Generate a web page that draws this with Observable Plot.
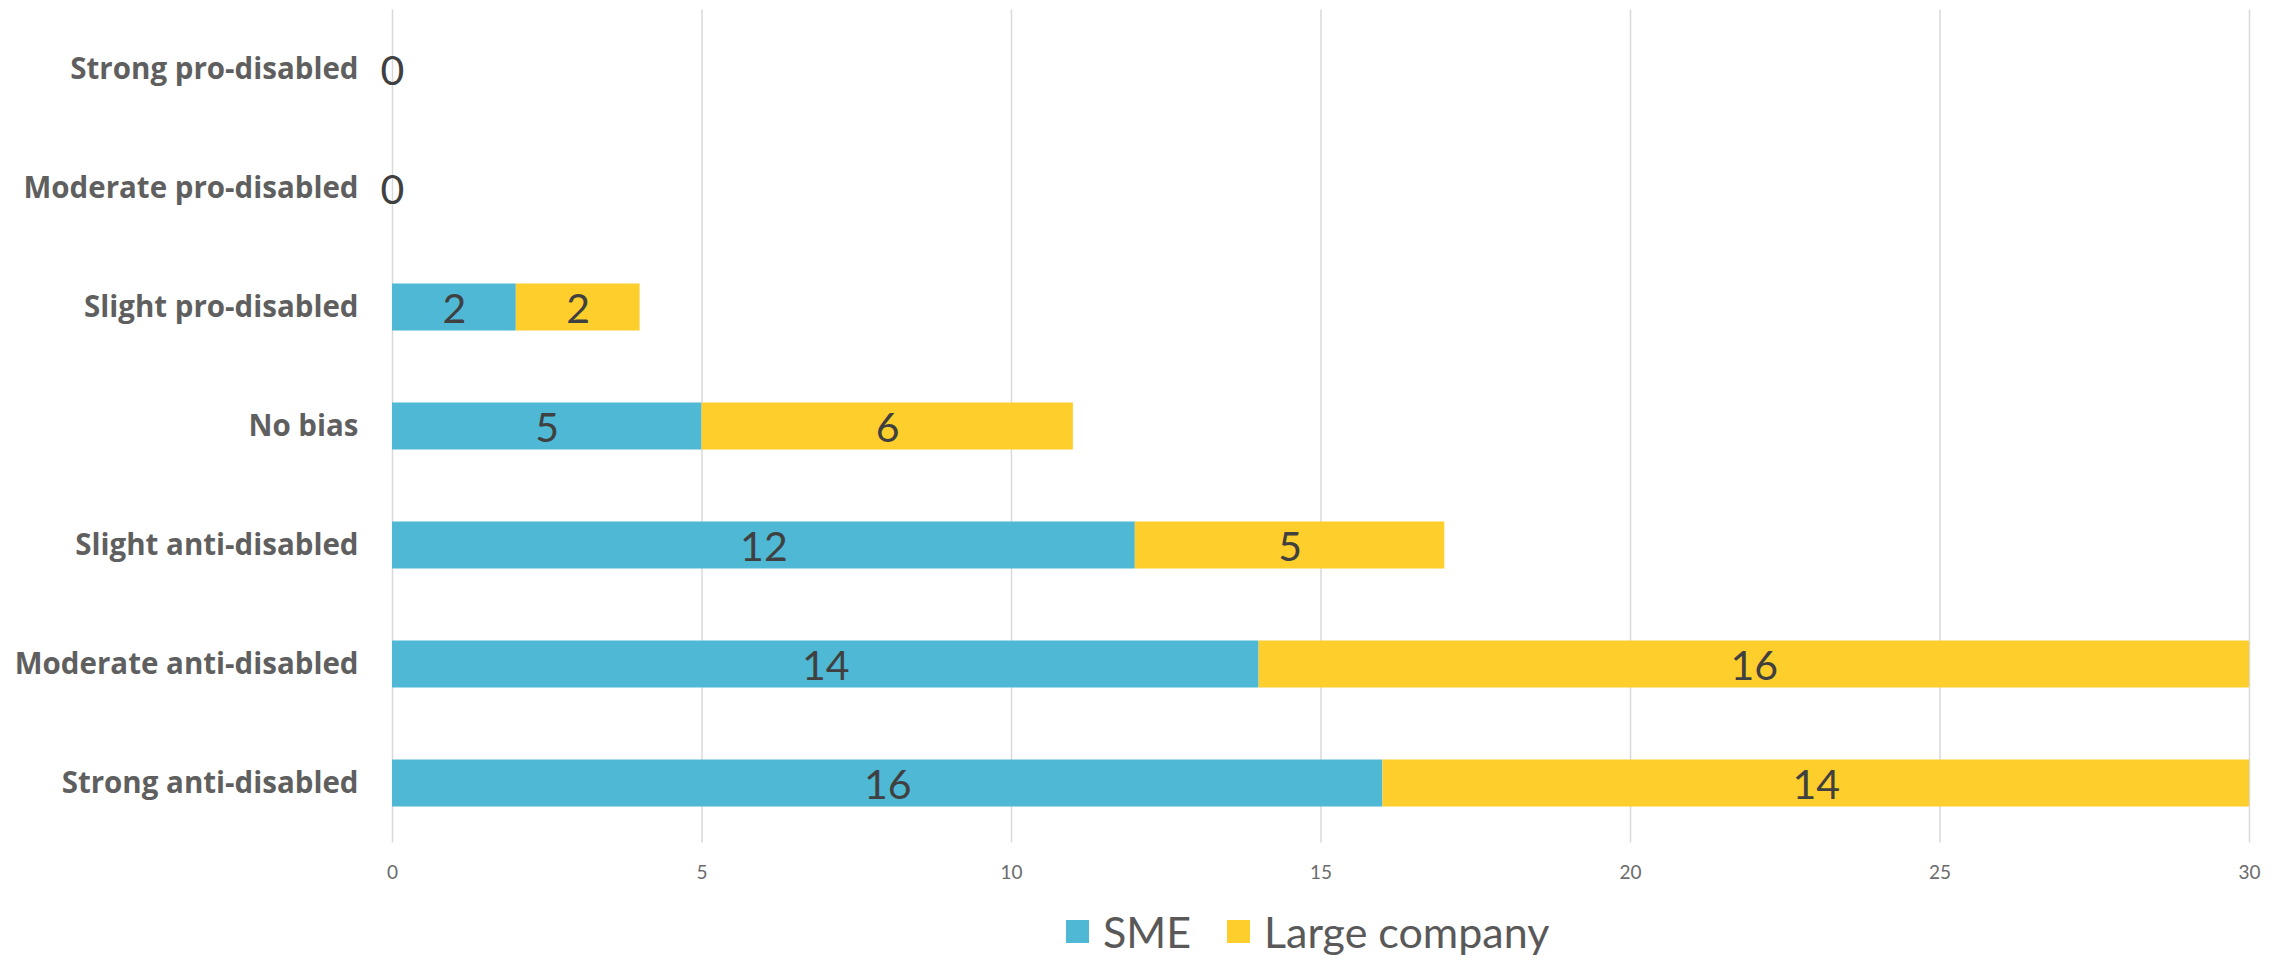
<!DOCTYPE html>
<html>
<head>
<meta charset="utf-8">
<script src="https://cdn.jsdelivr.net/npm/d3@7"></script>
<script src="https://cdn.jsdelivr.net/npm/@observablehq/plot@0.6"></script>
<style>
  html, body { margin: 0; padding: 0; background: #fff; }
  #chart { width: 2290px; }
  .legend { position: relative; height: 62px; font-family: Lato, "Open Sans", sans-serif; font-size: 43px; color: #595959; }
  .item { position: absolute; top: 0; height: 62px; display: flex; align-items: center; }
  .sw { width: 23px; height: 23px; margin-right: 14px; }
</style>
</head>
<body>
<div id="chart"></div>
<script>
const categories = [
  "Strong pro-disabled",
  "Moderate pro-disabled",
  "Slight pro-disabled",
  "No bias",
  "Slight anti-disabled",
  "Moderate anti-disabled",
  "Strong anti-disabled"
];
const smeValues   = [0, 0, 2, 5, 12, 14, 16];
const largeValues = [0, 0, 2, 6, 5, 16, 14];
const seriesNames = ["SME", "Large company"];
const seriesColors = ["#4FB8D5", "#FECE2D"];
const xTicks = [0, 5, 10, 15, 20, 25, 30];

const rows = [];
categories.forEach((c, i) => {
  rows.push({category: c, series: seriesNames[0], value: smeValues[i], start: 0, total: smeValues[i] + largeValues[i]});
  rows.push({category: c, series: seriesNames[1], value: largeValues[i], start: smeValues[i], total: smeValues[i] + largeValues[i]});
});
const labels = rows.filter(d => d.value > 0 || (d.series === seriesNames[0] && d.total === 0));

const chart = Plot.plot({
  width: 2290,
  height: 900,
  marginLeft: 392,
  marginRight: 41,
  marginTop: 9.5,
  marginBottom: 57.5,
  style: {background: "#fff"},
  x: {domain: [0, 30], ticks: xTicks, label: null},
  y: {domain: categories, paddingInner: 0.605, paddingOuter: 0.3025, round: false, label: null},
  color: {domain: seriesNames, range: seriesColors},
  marks: [
    Plot.ruleX(xTicks, {x: d => d, stroke: "#d9d9d9", strokeWidth: 1.5}),
    Plot.barX(rows, {y: "category", x1: "start", x2: d => d.start + d.value, fill: "series"}),
    Plot.text(labels, {
      y: "category",
      x: d => d.start + d.value / 2,
      text: d => String(d.value),
      fill: "#404040",
      fontSize: 41,
      fontFamily: "Lato, 'Open Sans', sans-serif",
      dy: 2
    }),
    Plot.axisX({
      ticks: xTicks, tickSize: 0, tickPadding: 22, fontSize: 19, label: null,
      fontFamily: "Lato, 'Open Sans', sans-serif", color: "#6b6b6b", tickFormat: d => String(d)
    }),
    Plot.axisY({
      tickSize: 0, tickPadding: 34, fontSize: 29.5, fontWeight: "bold", label: null,
      fontFamily: "'Open Sans', Lato, sans-serif", color: "#5f5f5f"
    })
  ]
});
document.getElementById("chart").appendChild(chart);

const legend = document.createElement("div");
legend.className = "legend";
const starts = [1066, 1227];
seriesNames.forEach((name, i) => {
  const item = document.createElement("div");
  item.className = "item";
  item.style.left = starts[i] + "px";
  const sw = document.createElement("span");
  sw.className = "sw";
  sw.style.background = seriesColors[i];
  const t = document.createElement("span");
  t.textContent = name;
  item.appendChild(sw);
  item.appendChild(t);
  legend.appendChild(item);
});
document.getElementById("chart").appendChild(legend);
</script>
</body>
</html>
